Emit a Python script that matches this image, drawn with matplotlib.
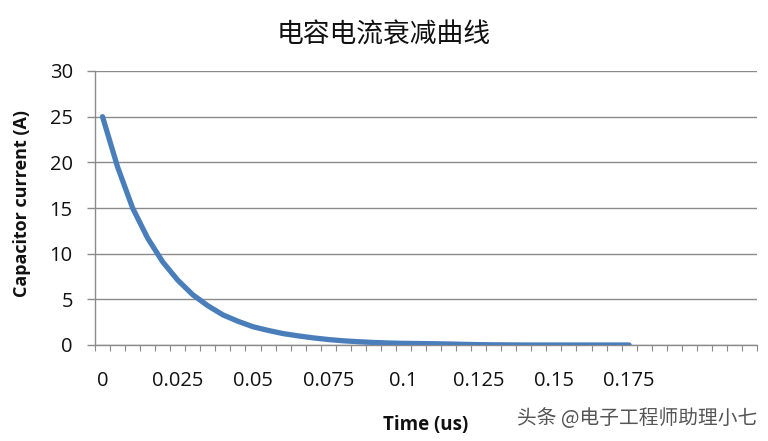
import numpy as np
import matplotlib
matplotlib.use("Agg")
import matplotlib.pyplot as plt
from matplotlib.ticker import FixedLocator

plt.rcParams['font.family'] = ['Open Sans', 'Noto Sans CJK SC', 'DejaVu Sans']

# capacitor current decay (one point every 0.005 us)
time_us = [0.000, 0.005, 0.010, 0.015, 0.020, 0.025, 0.030, 0.035, 0.040,
           0.045, 0.050, 0.055, 0.060, 0.065, 0.070, 0.075, 0.080, 0.085,
           0.090, 0.095, 0.100, 0.105, 0.110, 0.115, 0.120, 0.125, 0.130,
           0.135, 0.140, 0.145, 0.150, 0.155, 0.160, 0.165, 0.170, 0.175]
current_a = [25.0, 19.5, 15.0, 11.7, 9.1, 7.1, 5.5, 4.3, 3.3,
             2.6, 2.0, 1.6, 1.25, 1.0, 0.78, 0.6, 0.46, 0.36,
             0.28, 0.22, 0.18, 0.16, 0.14, 0.11, 0.07, 0.04, 0.02,
             0.01, 0.0, 0.0, 0.0, 0.0, 0.0, 0.0, 0.0, 0.0]
xlabels = ['0', '0.025', '0.05', '0.075', '0.1', '0.125', '0.15', '0.175']
xlabel_pos = [0, 0.025, 0.05, 0.075, 0.1, 0.125, 0.15, 0.175]

grid_col = '#8a8a8a'

fig = plt.figure(figsize=(7.68, 4.41), dpi=100)
ax = fig.add_axes([95/768, 1-345/441, 662/768, 274/441])

ax.plot(time_us, current_a, color='#4a7ebb', lw=3.8, solid_capstyle='round',
        solid_joinstyle='round', zorder=3)

ax.set_xlim(-0.0025, 0.2175)
ax.set_ylim(0, 30)
ax.set_yticks(np.arange(0, 31, 5))
ax.yaxis.grid(True, color=grid_col, lw=1)
ax.set_axisbelow(True)

ax.set_xticks(xlabel_pos)
ax.set_xticklabels(xlabels)
ax.xaxis.set_minor_locator(FixedLocator(np.arange(-0.0025, 0.218, 0.005)))
ax.tick_params(axis='x', which='major', length=0, pad=19, labelsize=14.5, labelcolor='#111111')
ax.tick_params(axis='x', which='minor', length=4.5, width=0.8, color=grid_col, direction='out')
ax.tick_params(axis='y', length=6, width=1, color=grid_col, pad=10, labelsize=14.5, labelcolor='#111111')

for s in ['top', 'right']:
    ax.spines[s].set_visible(False)
for s in ['left', 'bottom']:
    ax.spines[s].set_color(grid_col)
    ax.spines[s].set_linewidth(1)

ax.set_ylabel('Capacitor current (A)', fontsize=13, fontweight='bold', color='#111111')
ax.yaxis.set_label_coords(-0.096, 0.515)
ax.set_xlabel('Time (us)', fontsize=13.5, fontweight='bold', color='#111111', va='center')
ax.xaxis.set_label_coords(0.5, -0.292)

fig.text(0.5, 1-35/441, '电容电流衰减曲线', ha='center', va='center', fontsize=19.3,
         family=['Noto Sans CJK SC', 'DejaVu Sans'], color='#111111')
fig.text(517/768, 1-419/441, '头条 @电子工程师助理小七', ha='left', va='center', fontsize=14.2,
         family=['Noto Sans CJK SC', 'DejaVu Sans'], color='#555555')

fig.savefig('out.png', dpi=100)
